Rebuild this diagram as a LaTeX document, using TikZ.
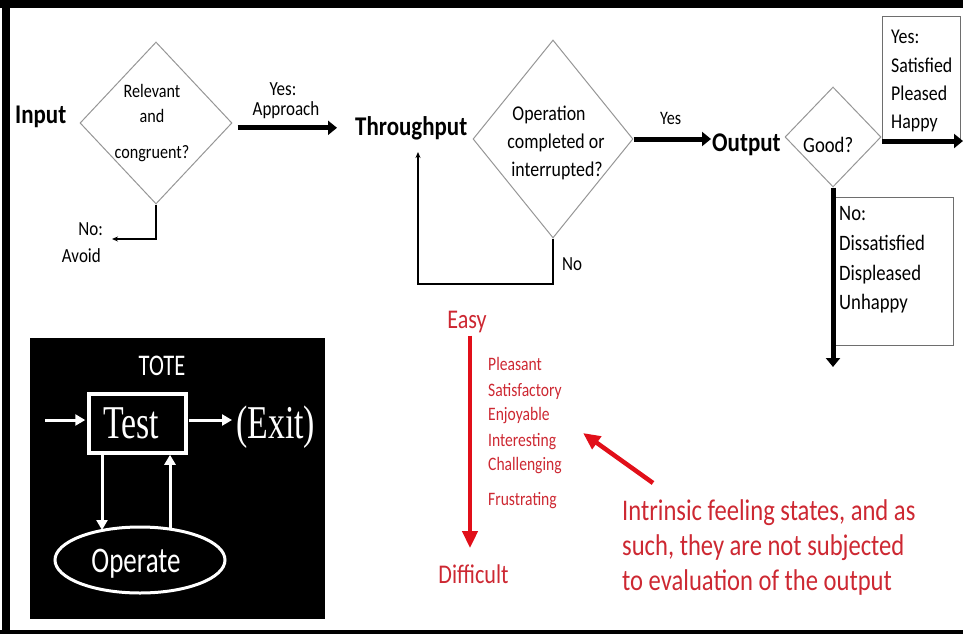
\documentclass[tikz,border=0pt]{standalone}
\usepackage{fontspec}
\setmainfont{Carlito}[FakeStretch=0.85]
\newfontfamily\redf{Carlito}[FakeStretch=0.82]
\newfontfamily\timesf{Liberation Serif}[FakeStretch=0.72]
\newfontfamily\totef{Carlito}[FakeStretch=0.75]
\usetikzlibrary{shapes.geometric,arrows.meta,calc}
\definecolor{diagray}{RGB}{150,150,150}
\definecolor{boxgray}{RGB}{110,110,110}
\definecolor{redtxt}{RGB}{205,40,50}
\definecolor{redarr}{RGB}{225,15,25}
\begin{document}
\begin{tikzpicture}[x=1pt,y=-1pt,
  hd/.style={font=\fontsize{27}{32}\selectfont\bfseries, inner sep=0pt},
  lbl/.style={font=\fontsize{#1}{#1}\selectfont, inner sep=0pt},
  lbl/.default=20,
  dia/.style={draw=diagray, line width=1pt, shape=diamond, inner sep=0pt},
  box/.style={draw=boxgray, line width=1pt, inner sep=0pt},
  bigarrow/.style={line width=5pt, -{Triangle[length=9pt,width=14pt]}},
  thinarrow/.style={line width=1.2pt, -{Stealth[length=6pt,width=5pt]}},
  whitearrow/.style={draw=white, line width=3pt, -{Triangle[length=10pt,width=11pt]}},
  redarrow/.style={draw=redarr, line width=4.5pt, -{Triangle[length=17pt,width=15pt]}},
  redlbl/.style={font=\redf\fontsize{#1}{#1}\selectfont, text=redtxt, inner sep=0pt},
  whitelbl/.style={font=\totef\fontsize{#1}{#1}\selectfont, text=white, inner sep=0pt}
]
\useasboundingbox (0,0) rectangle (963,634);
% frame
\fill[black] (0,0) rectangle (963,8);
\fill[black] (2,0) rectangle (10,634);
\fill[black] (0,630) rectangle (963,634);

% ---- Input / first decision
\node[hd, anchor=base west] (inp) at (15,123) {Input};
\node[dia, minimum width=152pt, minimum height=162pt] (d1) at (156,123) {};
\node[lbl=19, anchor=base] (d1a) at (152,97) {Relevant};
\node[lbl=19, anchor=base] (d1b) at (152,122) {and};
\node[lbl=19, anchor=base] (d1c) at (152,158) {congruent?};
\coordinate (avoidend) at (112,239);
\draw[thinarrow] (d1.south) |- (avoidend);
\node[lbl, anchor=base east] (no1) at (103,235) {No:};
\node[lbl, anchor=base east] (avoid) at (101,262) {Avoid};
\node[lbl, anchor=base] (yes1) at (283,95) {Yes:};
\node[lbl, anchor=base] (appr) at (286,115) {Approach};

% ---- Throughput / second decision
\node[hd, anchor=base west] (tp) at (355,135) {Throughput};
\draw[bigarrow] ($(tp.west -| d1.east)+(5,0)$) -- ($(tp.west)+(-18,0)$);
\node[dia, minimum width=160pt, minimum height=198pt] (d2) at (553,139) {};
\node[lbl=21, anchor=base] (d2a) at (549,120) {Operation};
\node[lbl=21, anchor=base] (d2b) at (556,148) {completed or};
\node[lbl=21, anchor=base] (d2c) at (557,176) {interrupted?};
\coordinate (loopc) at (418,284);
\coordinate (loopend) at (418,152);
\draw[thinarrow] (d2.south) |- (loopc) -- (loopend);
\node[lbl, anchor=base west] (no2) at (562,270) {No};

% ---- Output / third decision
\node[hd, anchor=base west] (out) at (712,151) {Output};
\draw[bigarrow] (d2.east) -- ($(d2.east -| out.west)+(-1,0)$);
\node[lbl=19, anchor=base west] (yes2) at (660,124) {Yes};
\node[dia, minimum width=96pt, minimum height=100pt] (d3) at (833,137) {};
\node[lbl=22, anchor=base west] (good) at (803,152) {Good?};

\node[box, anchor=north west, minimum width=78pt, minimum height=124pt] (yb) at (882,16) {};
\node[lbl=21, anchor=base west] (yb1) at (891,44) {Yes:};
\node[lbl=21, anchor=base west] (yb2) at (891,72) {Satisfied};
\node[lbl=21, anchor=base west] (yb3) at (891,100) {Pleased};
\node[lbl=21, anchor=base west] (yb4) at (891,128) {Happy};
\coordinate (yesend) at (963,141);
\draw[bigarrow] (yb.south west |- yesend) -- (yesend);

\node[box, anchor=north west, minimum width=120pt, minimum height=148pt] (nb) at (833,197) {};
\node[lbl=22, anchor=base west] (nb1) at (839,220) {No:};
\node[lbl=22, anchor=base west] (nb2) at (839,250) {Dissatisfied};
\node[lbl=22, anchor=base west] (nb3) at (839,280) {Displeased};
\node[lbl=22, anchor=base west] (nb4) at (839,309) {Unhappy};
\coordinate (noend) at (833,367);
\draw[bigarrow] (d3.south) -- (noend);

% ---- TOTE inset
\node[fill=black, inner sep=0pt, anchor=north west, minimum width=295pt, minimum height=281pt] (tote) at (30,338) {};
\node[whitelbl=30, anchor=base] (totet) at (162,375) {TOTE};
\node[draw=white, line width=3.5pt, inner sep=0pt, minimum width=97pt, minimum height=59pt] (test) at (137.5,423.5) {};
\node[font=\timesf\fontsize{47}{47}\selectfont, text=white, inner sep=0pt, anchor=base] (testt) at (131,438) {Test};
\node[font=\timesf\fontsize{47}{47}\selectfont, text=white, inner sep=0pt, anchor=base west] (exit) at (236,438) {(Exit)};
\node[ellipse, draw=white, line width=3pt, inner sep=0pt, minimum width=170pt, minimum height=66pt] (op) at (140,560) {};
\node[whitelbl=36, anchor=base] (opt) at (136,572) {Operate};
\coordinate (tin) at (45,420);
\coordinate (tout) at (232,420);
\draw[whitearrow, shorten >=2pt] (tin) -- (tin -| test.west);
\draw[whitearrow, shorten <=1pt] (test.east |- tout) -- (tout);
\draw[whitearrow] ($(test.south)+(-35.5,0)$) -- ($(op.center)+(-38,-30)$);
\draw[whitearrow] ($(op.center)+(30,-31)$) -- ($(test.south)+(32.5,0)$);

% ---- red part
\node[redlbl=27, anchor=base] (easy) at (467,328) {Easy};
\node[redlbl=27, anchor=base] (diff) at (473.5,583) {Difficult};
\draw[redarrow] ([xshift=3pt,yshift=-3pt]easy.south) -- ([xshift=-3.5pt,yshift=16pt]diff.north);
\node[redlbl=19, anchor=base west] (w1) at (488,370) {Pleasant};
\node[redlbl=19, anchor=base west] (w2) at (488,396) {Satisfactory};
\node[redlbl=19, anchor=base west] (w3) at (488,420) {Enjoyable};
\node[redlbl=19, anchor=base west] (w4) at (488,446) {Interesting};
\node[redlbl=19, anchor=base west] (w5) at (488,470) {Challenging};
\node[redlbl=19, anchor=base west] (w6) at (488,505) {Frustrating};
\coordinate (diagtail) at (653,483);
\coordinate (diagtip) at (583,433);
\draw[redarrow] (diagtail) -- (diagtip);
\node[redlbl=30, anchor=base west] (b1) at (622,520) {Intrinsic feeling states, and as};
\node[redlbl=30, anchor=base west] (b2) at (622,555) {such, they are not subjected};
\node[redlbl=30, anchor=base west] (b3) at (622,590) {to evaluation of the output};
\end{tikzpicture}
\end{document}
